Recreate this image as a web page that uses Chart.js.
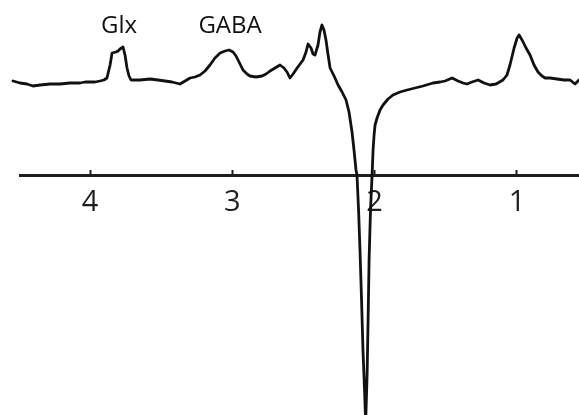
<!DOCTYPE html>
<html>
<head>
<meta charset="utf-8">
<script src="https://cdn.jsdelivr.net/npm/chart.js@4"></script>
<style>
  html, body { margin: 0; padding: 0; background: #ffffff; }
  #wrap { position: relative; width: 579px; height: 415px; }
</style>
</head>
<body>
<div id="wrap"><canvas id="c"></canvas></div>
<script>
// chemical shift (ppm) and signal intensity
const ppm = [4.541,4.492,4.443,4.401,4.351,4.281,4.211,4.141,4.070,4.035,3.965,3.930,3.902,3.881,3.859,3.845,3.817,3.803,3.789,3.768,3.754,3.740,3.726,3.712,3.649,3.578,3.522,3.473,3.424,3.368,3.332,3.297,3.262,3.227,3.192,3.157,3.122,3.086,3.051,3.023,2.995,2.974,2.946,2.925,2.897,2.876,2.833,2.791,2.763,2.735,2.700,2.665,2.637,2.616,2.595,2.573,2.545,2.524,2.503,2.482,2.468,2.447,2.433,2.419,2.398,2.384,2.370,2.356,2.342,2.327,2.313,2.285,2.257,2.229,2.201,2.180,2.159,2.145,2.131,2.124,2.113,2.103,2.092,2.082,2.071,2.063,2.053,2.046,2.039,2.029,2.018,2.011,2.004,1.997,1.983,1.962,1.941,1.906,1.871,1.822,1.772,1.716,1.660,1.590,1.540,1.505,1.456,1.414,1.379,1.351,1.316,1.273,1.231,1.189,1.147,1.098,1.070,1.049,1.020,0.999,0.985,0.964,0.936,0.908,0.880,0.852,0.824,0.802,0.767,0.718,0.669,0.627,0.592,0.564];
const intensity = [94,92,91,89,90,91,91,92,92,93,93,94,95,97,110,122,123,124,126,128,120,107,99,95,95,96,95,94,93,91,94,97,98,100,104,110,117,122,124,125,123,119,111,105,101,99,98,99,101,104,107,110,107,103,97,101,107,111,115,123,131,127,121,120,130,143,150,145,135,120,107,99,90,83,75,63,43,25,5,0,-35,-75,-125,-175,-215,-247,-200,-145,-85,-35,0,25,40,50,57,65,70,76,80,83,85,87,89,92,93,94,97,94,92,91,93,95,92,90,91,95,100,110,127,137,140,135,127,120,110,103,99,97,97,96,95,95,91,95];
const tickValues = [4, 3, 2, 1];
const peakNames = ['Glx', 'GABA'];
const peakPpm = [3.796, 3.016];
const peakLabelLevel = [149, 149];

const points = ppm.map((p, i) => ({ x: p, y: intensity[i] }));

const peakLabelPlugin = {
  id: 'peakLabels',
  afterDatasetsDraw(chart) {
    const { ctx, scales } = chart;
    ctx.save();
    ctx.font = '24px "Open Sans", sans-serif';
    ctx.fillStyle = '#111111';
    ctx.textAlign = 'center';
    ctx.textBaseline = 'middle';
    peakNames.forEach((name, i) => {
      ctx.fillText(name, scales.x.getPixelForValue(peakPpm[i]), scales.y.getPixelForValue(peakLabelLevel[i]));
    });
    ctx.restore();
  }
};

new Chart(document.getElementById('c'), {
  type: 'line',
  data: {
    datasets: [{
      data: points,
      borderColor: '#111111',
      borderWidth: 2.8,
      pointRadius: 0,
      tension: 0,
      borderJoinStyle: 'round',
      borderCapStyle: 'round',
      fill: false,
      clip: false
    }]
  },
  options: {
    responsive: true,
    maintainAspectRatio: false,
    animation: false,
    layout: { padding: { left: 20, right: 0, top: 0, bottom: 0 } },
    plugins: { legend: { display: false }, tooltip: { enabled: false } },
    scales: {
      x: {
        type: 'linear',
        reverse: true,
        min: 0.564,
        max: 4.492,
        position: { y: 0 },
        afterBuildTicks: (scale) => { scale.ticks = tickValues.map(v => ({ value: v })); },
        border: { display: true, color: '#1e1e1e', width: 3 },
        grid: { display: true, drawOnChartArea: false, drawTicks: true, tickLength: -7, tickWidth: 2, tickColor: '#1e1e1e' },
        ticks: {
          padding: 17,
          maxRotation: 0,
          color: '#1e1e1e',
          font: { family: '"Open Sans", sans-serif', size: 29 },
          callback: (v) => String(v)
        }
      },
      y: {
        type: 'linear',
        display: false,
        min: -240,
        max: 175
      }
    }
  },
  plugins: [peakLabelPlugin]
});
</script>
</body>
</html>
